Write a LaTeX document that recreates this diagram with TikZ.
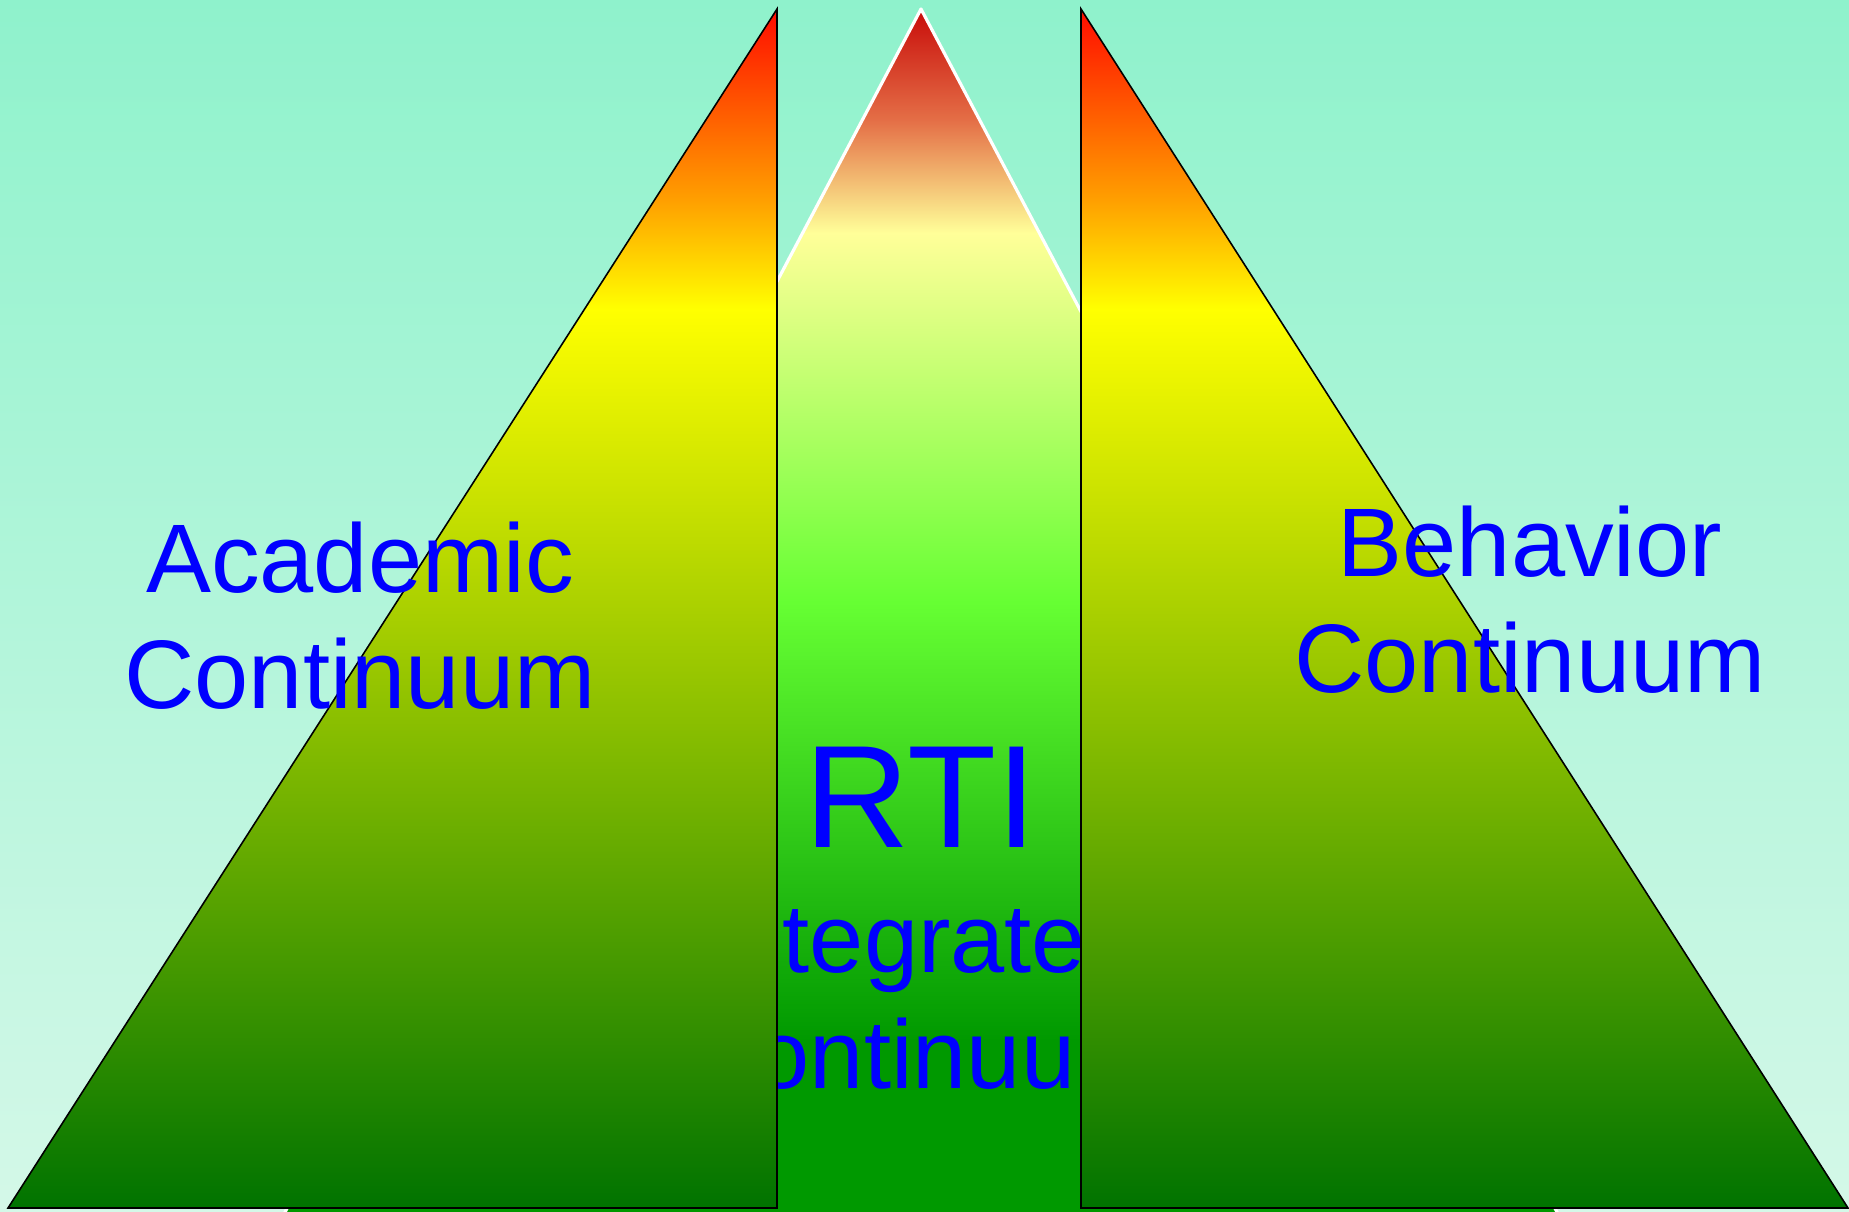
\documentclass[tikz,border=0pt]{standalone}
\usepackage{fontspec}
\setmainfont{Liberation Sans}
\usetikzlibrary{positioning}
\definecolor{rtSkyTop}{RGB}{143,242,204}
\definecolor{rtSkyLow}{RGB}{212,248,232}
\definecolor{rtRed}{RGB}{255,12,0}
\definecolor{rtOrange}{RGB}{255,160,0}
\definecolor{rtYellow}{RGB}{255,255,0}
\definecolor{rtLeaf}{RGB}{0,115,0}
\definecolor{rtBrick}{RGB}{200,12,10}
\definecolor{rtSalmon}{RGB}{228,110,70}
\definecolor{rtCream}{RGB}{255,255,153}
\definecolor{rtLime}{RGB}{102,255,51}
\definecolor{rtGrass}{RGB}{0,153,0}
\definecolor{rtInk}{RGB}{0,0,255}
% gradients: bounding box of the path runs from 25bp (bottom) to 75bp (top)
\pgfdeclareverticalshading{sideGrad}{100bp}{%
  color(0bp)=(rtLeaf); color(25bp)=(rtLeaf); color(62.5bp)=(rtYellow);
  color(67bp)=(rtOrange); color(75bp)=(rtRed); color(100bp)=(rtRed)}
\pgfdeclareverticalshading{midGrad}{100bp}{%
  color(0bp)=(rtGrass); color(25bp)=(rtGrass); color(32.2bp)=(rtGrass);
  color(50.4bp)=(rtLime); color(65.7bp)=(rtCream); color(70.4bp)=(rtSalmon);
  color(75bp)=(rtBrick); color(100bp)=(rtBrick)}
\tikzset{
  sidetri/.style ={draw=black,line width=0.45pt,shade,shading=sideGrad},
  midtri/.style  ={draw=white,line width=0.9pt,shade,shading=midGrad,line join=round},
  lbl/.style     ={text=rtInk,align=center,inner sep=0pt,
                   font=\fontsize{27.7pt}{32.9pt}\selectfont},
  biglbl/.style  ={text=rtInk,inner sep=0pt,font=\fontsize{41.5pt}{48pt}\selectfont},
}
\begin{document}
\begin{tikzpicture}[x=0.01cm,y=-0.01cm]
\useasboundingbox (0,0) rectangle (1849,1211);
\shade[top color=rtSkyTop,bottom color=rtSkyLow] (0,0) rectangle (1849,1211);

% the integrated pyramid, behind the other two
\coordinate (rtiTop) at (921,9);
\coordinate (rtiLeft) at (284,1214);
\coordinate (rtiRight) at (1558,1214);
\path[midtri] (rtiLeft) -- (rtiTop) -- (rtiRight) -- cycle;
\node[biglbl,anchor=base] (rti) at (921,847) {RTI};
% base anchor sits on the last line
\node[lbl,anchor=base] (integ) at (921,1088) {Integrated\\Continuum};

% academic and behavior halves
\coordinate (acTop) at (777,9);
\coordinate (acLeft) at (8,1208);
\coordinate (acFoot) at (777,1208);
\path[sidetri] (acLeft) -- (acTop) -- (acFoot) -- cycle;
\coordinate (bhTop) at (1081,9);
\coordinate (bhFoot) at (1081,1208);
\coordinate (bhRight) at (1848,1208);
\path[sidetri] (bhFoot) -- (bhTop) -- (bhRight) -- cycle;

\node[lbl,anchor=base] (academic) at (360,708) {Academic\\Continuum};
\node[lbl,anchor=base] (behavior) at (1530,692) {Behavior\\Continuum};
\end{tikzpicture}
\end{document}
